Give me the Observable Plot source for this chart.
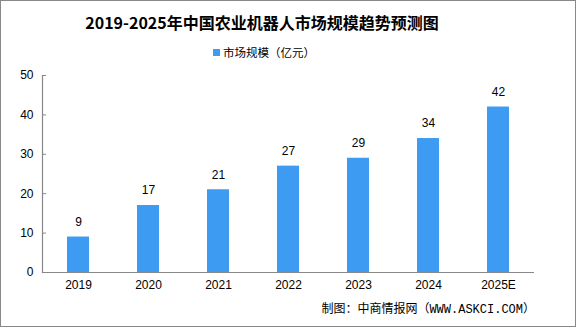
<!DOCTYPE html>
<html><head><meta charset="utf-8">
<script src="https://cdn.jsdelivr.net/npm/d3@7"></script>
<script src="https://cdn.jsdelivr.net/npm/@observablehq/plot@0.6"></script>
<style>
body{margin:0;background:#fff}
#wrap{position:relative;width:576px;height:327px;overflow:hidden;background:#fff;font-family:"Liberation Sans","Noto Sans CJK SC",sans-serif;color:#000}
#border{position:absolute;left:0;top:0;width:576px;height:327px;box-sizing:border-box;border:1px solid #888;pointer-events:none}
#title{position:absolute;left:0;top:9px;width:524px;text-align:center;font-family:"Noto Sans CJK SC",sans-serif;font-weight:bold;font-size:16px;line-height:26px}
#legend{position:absolute;left:213px;top:43px;height:18px;display:flex;align-items:center;font-family:"Noto Sans CJK SC",sans-serif;font-size:11.5px;white-space:nowrap}
#legend .sw{width:7px;height:7px;margin-right:3px}
#caption{position:absolute;right:41px;top:301px;font-family:"Liberation Mono","Noto Sans CJK SC",monospace;font-size:12px;line-height:18px;white-space:nowrap}
#chart{position:absolute;left:0;top:0}
</style></head>
<body>
<div id="wrap">
  <div id="chart"></div>
  <div id="title"></div>
  <div id="legend"></div>
  <div id="caption"></div>
  <div id="border"></div>
</div>
<script>
const titleText = "2019-2025年中国农业机器人市场规模趋势预测图";
const seriesName = "市场规模（亿元）";
const captionText = "制图：中商情报网（WWW.ASKCI.COM）";
const years = ["2019", "2020", "2021", "2022", "2023", "2024", "2025E"];
const values = [9, 17, 21, 27, 29, 34, 42];
const yTicks = [0, 10, 20, 30, 40, 50];
const barColor = "#3d9cf2";

const data = years.map((year, i) => ({year, value: values[i]}));

document.getElementById("title").textContent = titleText;
document.getElementById("caption").textContent = captionText;
const lg = document.getElementById("legend");
const sw = document.createElement("span"); sw.className = "sw"; sw.style.background = barColor;
const lt = document.createElement("span"); lt.textContent = seriesName;
lg.append(sw, lt);

const chart = Plot.plot({
  width: 576,
  height: 327,
  marginLeft: 42,
  marginRight: 42,
  marginTop: 75,
  marginBottom: 55,
  style: {fontFamily: "Liberation Sans, sans-serif", fontSize: "12px", color: "#000", background: "transparent"},
  x: {domain: years, paddingInner: 0.687, paddingOuter: 0.3435, align: 0.5, label: null},
  y: {domain: [0, 50], label: null},
  marks: [
    Plot.barY(data, {x: "year", y: "value", fill: barColor}),
    Plot.text(data, {x: "year", y: "value", text: d => String(d.value), dy: -15, fontSize: 12, fill: "#000"}),
    Plot.ruleY([0], {stroke: "#888", strokeWidth: 1.2}),
    Plot.frame({anchor: "left", stroke: "#888", strokeWidth: 1.2}),
    Plot.axisY({ticks: yTicks, tickSize: 0, tickPadding: 9, fontSize: 12, fill: "#000"}),
    Plot.axisY({ticks: yTicks, tickSize: 4, dx: 4, tickFormat: () => "", stroke: "#888"}),
    Plot.axisX({tickSize: 0, tickPadding: 8, fontSize: 12, fill: "#000"})
  ]
});
document.getElementById("chart").append(chart);
</script>
</body></html>
